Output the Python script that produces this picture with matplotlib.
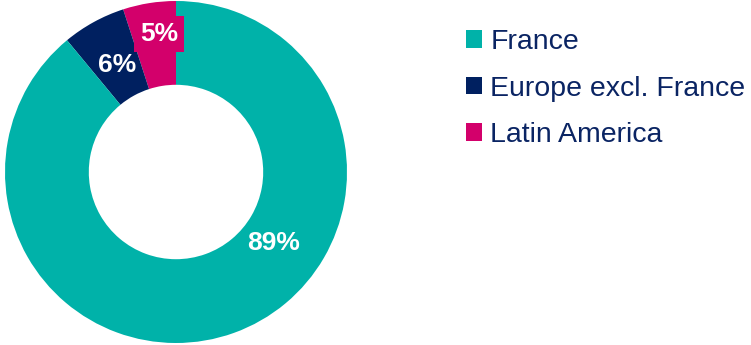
import matplotlib
matplotlib.use("Agg")
import matplotlib.pyplot as plt
from matplotlib.patches import Patch

plt.rcParams["font.family"] = ["Liberation Sans", "DejaVu Sans"]

regions = ["France", "Europe excl. France", "Latin America"]
shares = [89, 6, 5]
labels = ["89%", "6%", "5%"]
colors = ["#00b2a9", "#002060", "#d3006b"]

W, H = 751, 345
fig = plt.figure(figsize=(W / 100, H / 100), dpi=100)
cx, cy, R = 176, 173, 171
ax = fig.add_axes([(cx - R) / W, (cy - R) / H, 2 * R / W, 2 * R / H])
ax.axis("off")

# draw counter-clockwise from 12 o'clock: Latin America, Europe, then France
order = [2, 1, 0]
wedges, _ = ax.pie([shares[i] for i in order], colors=[colors[i] for i in order],
                   startangle=90, counterclock=True, radius=1,
                   wedgeprops=dict(width=0.49, linewidth=0))
ax.set_xlim(-1, 1)
ax.set_ylim(-1, 1)
ax.set_aspect("equal")

# label positions (axes fraction)
pos = {0: (0.784, 0.292), 1: (0.327, 0.813), 2: (0.45, 0.904)}
for i in range(3):
    x, y = pos[i]
    kw = {}
    if i == 2:
        kw["bbox"] = dict(boxstyle="square,pad=0.22", fc=colors[2], ec="none")
    ax.text(x, y, labels[i], transform=ax.transAxes, ha="center", va="center",
            color="white", fontsize=19, fontweight="bold", clip_on=False,
            zorder=5, **kw)

handles = [Patch(facecolor=c, edgecolor="none") for c in colors]
fig.legend(handles, regions, loc="upper left", bbox_to_anchor=(466 / W, 1 - 29 / H),
           frameon=False, fontsize=20.5, handlelength=0.55, handleheight=0.55,
           handletextpad=0.3, labelspacing=0.72, labelcolor="#0a2463",
           borderpad=0, borderaxespad=0)

fig.savefig("out.png", dpi=100)
